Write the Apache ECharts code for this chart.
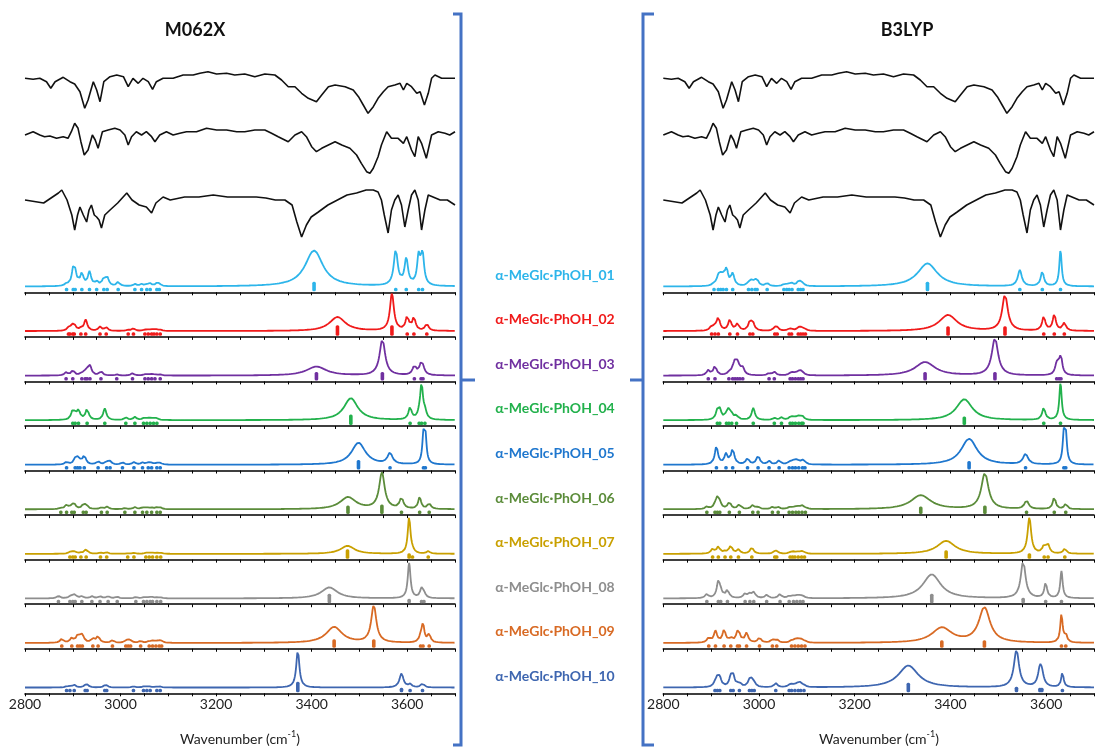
<!DOCTYPE html>
<html><head><meta charset="utf-8">
<script src="https://cdn.jsdelivr.net/npm/echarts@6/dist/echarts.min.js"></script>
<style>html,body{margin:0;padding:0;background:#fff}#c{width:1096px;height:747px}</style>
</head><body><div id="c"></div>
<script>
// ---------------- DATA ----------------
const methods = ['M062X', 'B3LYP'];
const conformers = ['α-MeGlc·PhOH_01','α-MeGlc·PhOH_02','α-MeGlc·PhOH_03','α-MeGlc·PhOH_04','α-MeGlc·PhOH_05',
  'α-MeGlc·PhOH_06','α-MeGlc·PhOH_07','α-MeGlc·PhOH_08','α-MeGlc·PhOH_09','α-MeGlc·PhOH_10'];
const tickLabels = [2800, 3000, 3200, 3400, 3600];
const axisTitle = 'Wavenumber (cm';

// experimental traces: [wavenumber, signal (a.u.)]
const expTrace1 = [[2800,1.7],[2817,0.7],[2831,1.7],[2845,-1.7],[2854,-8.3],[2863,-1.7],[2880,2.7],[2894,-1.7],[2904,-4],[2915,-11.7],[2925,-28.3],[2932,-20],[2943,-1.7],[2950,-10],[2957,-21.7],[2965,-1.7],[2978,3.3],[2992,5],[3006,3.3],[3016,-6.7],[3026,1.7],[3037,-3.3],[3047,1.7],[3058,-1.7],[3067,-9.3],[3075,-1.7],[3089,1.7],[3110,1.7],[3131,5],[3152,5],[3166,6.7],[3183,8.3],[3201,6],[3222,6.7],[3239,5],[3260,6],[3281,3.3],[3302,6],[3323,5],[3337,0],[3351,-6.7],[3365,-6.7],[3379,-13.3],[3393,-18.3],[3410,-21.7],[3421,-15],[3435,-6.7],[3449,-5],[3470,-6.7],[3487,-10],[3498,-16.7],[3508,-25],[3518,-33.3],[3529,-26.7],[3539,-18.3],[3550,-11.7],[3560,-6.7],[3574,-5],[3585,-3.3],[3592,-10],[3599,-3.3],[3609,-6.7],[3620,-13.3],[3627,-11.7],[3636,-25],[3644,-13.3],[3651,1.7],[3658,5],[3672,1.7],[3686,1.7],[3700,1.7]];
const expTrace2 = [[2800,-2],[2817,1.3],[2831,-2],[2841,-3.7],[2852,-3],[2866,-5.3],[2880,-3.7],[2890,-5.3],[2897,1.3],[2904,9.7],[2911,4.7],[2917,-8.7],[2924,-22],[2932,-17],[2941,-2],[2947,-7],[2953,-15.3],[2962,1.3],[2974,3],[2988,4.7],[2999,3],[3009,-2],[3016,-12],[3023,-3.7],[3033,1.3],[3044,-2],[3054,1.3],[3065,-3.7],[3072,-8.7],[3082,-2],[3096,1.3],[3110,-2],[3124,-0.3],[3138,1.3],[3159,1.3],[3180,4.7],[3201,3],[3222,3],[3243,1.3],[3260,1.3],[3281,3],[3302,3],[3316,-0.3],[3330,-3.7],[3351,-8.7],[3365,-2],[3379,1.3],[3389,-3.7],[3400,-13.7],[3410,-18.7],[3421,-15.3],[3435,-12],[3449,-8.7],[3463,-12],[3480,-15.3],[3494,-22],[3504,-30.3],[3515,-38.7],[3522,-40.3],[3529,-35.3],[3539,-23.7],[3546,-12],[3557,1.3],[3567,-5.3],[3581,-5.3],[3592,-10.3],[3599,-3.7],[3609,-17],[3616,-23.7],[3623,-3.7],[3630,-10.3],[3640,-25.3],[3651,-2],[3665,1.3],[3679,-0.3],[3689,-2],[3700,1.3]];
const expTrace3 = [[2800,-2],[2839,-5],[2870,5],[2877,8],[2888,-2],[2898,-17],[2904,-32],[2910,-17],[2915,-9],[2922,-17],[2929,-24],[2934,-12],[2939,-7],[2945,-17],[2950,-19],[2955,-22],[2960,-30],[2967,-17],[2978,-12],[2994,-5],[3013,5],[3024,-2],[3039,-7],[3054,-9],[3065,-15],[3074,-5],[3089,1],[3104,-2],[3134,1],[3164,1],[3194,3],[3224,1],[3254,1],[3284,1],[3304,0],[3324,-2],[3344,-2],[3359,-7],[3369,-24],[3379,-39],[3389,-27],[3399,-19],[3414,-14],[3434,-7],[3454,-2],[3474,3],[3494,5],[3514,8],[3529,8],[3539,6],[3546,-2],[3552,-17],[3560,-35],[3567,-12],[3574,-2],[3581,3],[3588,-7],[3595,-29],[3602,-12],[3609,3],[3616,8],[3623,-2],[3630,-32],[3637,-12],[3644,3],[3654,1],[3669,-2],[3684,-2],[3700,-7]];

// computed bands: [wavenumber, band height, FWHM, stick intensity]
const m062x01 = [[2887,2,8,4],[2901,15,8,4],[2905,10,8,4],[2919,12,8,4],[2935,14,8,4],[2950,4,8,4],[2965,7,8,4],[2972,8,8,4],[2995,4,8,4],[3030,2,8,4],[3044,2,8,4],[3055,1.5,8,4],[3062,2.5,8,4],[3076,2.5,8,4],[3081,2,8,4],[3405,36,45,10],[3576,35,10,4],[3598,26,9,4],[3624,28,8,4],[3632,30,8,4]];
const m062x02 = [[2891,2,8,4],[2894,2,8,4],[2900,3,8,4],[2903,5,8,4],[2917,2,8,4],[2927,11,8,4],[2957,4,8,4],[2970,3.5,8,4],[3016,1,8,4],[3027,2.5,8,4],[3051,1,8,4],[3058,1,8,4],[3065,1,8,4],[3070,1,8,4],[3076,1,8,4],[3083,1,8,4],[3454,14,40,11],[3568,37,10,11],[3600,14,8,4],[3614,13,8,4],[3641,7,8,4]];
const m062x03 = [[2886,3,8,4],[2900,5,8,4],[2919,2,8,4],[2926,2,8,4],[2930,4,8,4],[2936,9,8,4],[2959,4,8,4],[2992,1,8,4],[3025,2.2,8,4],[3051,1,8,4],[3058,1,8,4],[3065,1,8,4],[3072,1,8,4],[3083,1,8,4],[3410,9,50,9],[3548,36,14,9],[3615,9,9,4],[3629,10,9,4],[3633,5,9,4]];
const m062x04 = [[2900,9,8,4],[2905,3,8,4],[2912,9,8,4],[2930,11,8,4],[2967,11.5,8,4],[3011,2.5,8,4],[3030,3,8,4],[3048,1.5,8,4],[3055,1.5,8,4],[3062,1.5,8,4],[3069,1.5,8,4],[3076,1.5,8,4],[3482,22,35,11],[3606,12,8,4],[3625,4,8,4],[3630,34,7,4],[3637,7,8,4]];
const m062x05 = [[2887,2.5,8,4],[2905,5,8,4],[2910,5,8,4],[2915,2,8,4],[2924,9,8,4],[2953,3,8,4],[2971,3,8,4],[2978,3,8,4],[3004,2,8,4],[3028,2.5,8,4],[3046,2,8,4],[3058,2,8,4],[3065,1.5,8,4],[3076,1.5,8,4],[3083,1.5,8,4],[3498,22,35,10],[3564,11,12,4],[3634,26,6,4],[3638,26,6,4]];
const m062x06 = [[2875,1,8,4],[2887,4,8,4],[2898,3,8,4],[2903,4.5,8,4],[2922,4,8,4],[2928,4,8,4],[2960,1.5,8,4],[2972,2.5,8,4],[3009,1,8,4],[3030,2,8,4],[3046,1.5,8,4],[3055,1.5,8,4],[3065,1.5,8,4],[3076,1.5,8,4],[3083,1.5,8,4],[3476,12,40,9],[3547,36,14,10],[3588,11,9,4],[3626,12,7,4],[3646,5.5,8,4]];
const m062x07 = [[2894,1.5,8,4],[2900,1.5,8,4],[2905,1.5,8,4],[2917,1,8,4],[2928,4.5,8,4],[2958,1,8,4],[2971,1.5,8,4],[3015,0.5,8,4],[3028,1,8,4],[3053,0.8,8,4],[3060,0.8,8,4],[3067,0.8,8,4],[3076,0.8,8,4],[3084,0.8,8,4],[3475,8,35,10],[3604,36,7,6],[3611,2,8,4],[3644,2.5,8,4]];
const m062x08 = [[2870,2.5,8,4],[2894,1.5,8,4],[2900,2,8,4],[2905,3,8,4],[2919,2,8,4],[2940,2,8,4],[2957,2,8,4],[2974,2,8,4],[2993,1.5,8,4],[3032,1.2,8,4],[3048,0.8,8,4],[3055,0.8,8,4],[3062,0.8,8,4],[3067,0.8,8,4],[3076,0.8,8,4],[3084,0.8,8,4],[3437,11,40,10],[3604,35,7,5],[3630,9,8,4],[3635,4,8,4]];
const m062x09 = [[2877,4,8,4],[2898,4.5,8,4],[2910,6,8,4],[2915,3,8,4],[2920,7,8,4],[2942,4,8,4],[2953,6.5,8,4],[2983,2.5,8,4],[3011,1.5,8,4],[3016,2.5,8,4],[3021,1.5,8,4],[3042,1.8,8,4],[3060,1.5,8,4],[3067,1.5,8,4],[3074,1.5,8,4],[3081,1.5,8,4],[3086,1.5,8,4],[3447,16,40,9],[3530,37,13,9],[3628,5,7,4],[3633,18,7,4],[3646,8,7,4]];
const m062x10 = [[2887,1,8,4],[2894,1,8,4],[2903,2.5,8,4],[2926,1.5,8,4],[2930,2.5,8,4],[2967,1.5,8,4],[2971,1.5,8,4],[3027,1,8,4],[3048,0.8,8,4],[3055,0.8,8,4],[3062,0.8,8,4],[3076,0.8,8,4],[3083,0.8,8,4],[3371,37,8,11],[3588,14,10,5],[3606,3,8,4],[3632,4,8,4]];

const b3lyp01 = [[2906,2,8,4],[2915,8,8,4],[2920,7,8,4],[2925,6,8,4],[2932,16,8,4],[2945,12,8,4],[2978,3,8,4],[2985,5,8,4],[2992,3,8,4],[2996,5,8,4],[3017,3,8,4],[3052,1.5,8,4],[3058,1,8,4],[3063,1.5,8,4],[3069,2.5,8,4],[3082,3.5,8,4],[3087,3.5,8,4],[3092,1.5,8,4],[3352,23,50,10],[3545,16,10,4],[3592,14.5,8,4],[3630,36,6,4]];
const b3lyp02 = [[2901,4,8,4],[2908,3,8,4],[2915,13,8,4],[2939,11,8,4],[2955,7,8,4],[2981,8.5,8,4],[2987,7.5,8,4],[3033,3,8,4],[3038,3,8,4],[3063,1.5,8,4],[3068,1.5,8,4],[3082,2.5,8,4],[3087,2.5,8,4],[3092,1.5,8,4],[3097,1,8,4],[3395,16,45,10],[3514,36,14,10],[3595,14,8,4],[3617,16,8,4],[3638,8,8,4]];
const b3lyp03 = [[2894,5,8,4],[2908,9.5,8,4],[2937,2,8,4],[2945,4,8,4],[2950,11,8,4],[2955,9,8,4],[2960,3,8,4],[2966,6.5,8,4],[3021,2,8,4],[3032,3.5,8,4],[3065,1.5,8,4],[3070,2,8,4],[3076,1.5,8,4],[3082,2.5,8,4],[3087,3.5,8,4],[3092,1.5,8,4],[3347,13.5,50,9],[3493,37,16,9],[3622,10,8,4],[3627,6,8,4],[3631,16,7,4]];
const b3lyp04 = [[2913,8,8,4],[2918,9,8,4],[2932,4,8,4],[2937,9,8,4],[2943,4,8,4],[2953,4,8,4],[2988,12,8,4],[3032,2,8,4],[3047,2.5,8,4],[3065,2,8,4],[3070,2,8,4],[3076,2,8,4],[3083,3,8,4],[3089,2.5,8,4],[3092,1.5,8,4],[3429,21,40,9],[3595,12,8,4],[3630,37,6,4]];
const b3lyp05 = [[2911,18,8,4],[2931,10,8,4],[2945,15.5,8,4],[2976,6,8,4],[2998,9,8,4],[3021,3.3,8,4],[3042,4,8,4],[3063,2,8,4],[3070,2.5,8,4],[3076,4,8,4],[3083,2.5,8,4],[3091,3.5,8,4],[3096,1.5,8,4],[3439,26,40,9],[3557,10.5,12,4],[3637,27,6,4],[3641,27,6,4]];
const b3lyp06 = [[2891,2.3,8,4],[2908,3,8,4],[2913,10,8,4],[2918,5,8,4],[2938,7,8,4],[2959,4.5,8,4],[2987,4,8,4],[2998,2,8,4],[3028,2,8,4],[3040,2,8,4],[3063,1.5,8,4],[3070,1.5,8,4],[3077,1.5,8,4],[3083,2,8,4],[3090,3,8,4],[3097,1,8,4],[3338,14,50,8],[3472,36,18,9],[3559,8.5,10,4],[3617,12.5,7,4],[3641,5.5,7,4]];
const b3lyp07 = [[2903,4.5,8,4],[2915,7,8,4],[2929,2,8,4],[2941,8,8,4],[2957,4,8,4],[2985,6.5,8,4],[3033,2,8,4],[3037,2,8,4],[3065,1,8,4],[3070,1.5,8,4],[3075,1,8,4],[3082,1.5,8,4],[3089,2,8,4],[3095,1,8,4],[3391,13,45,9],[3565,36,9,6],[3596,8,8,4],[3604,8,8,4],[3639,5,8,4]];
const b3lyp08 = [[2891,4,8,4],[2915,16,8,4],[2920,5,8,4],[2934,8,8,4],[2971,4.5,8,4],[2981,4,8,4],[2989,5.5,8,4],[3016,3.3,8,4],[3044,4,8,4],[3063,2,8,4],[3072,2,8,4],[3079,2,8,4],[3086,2.5,8,4],[3092,1.5,8,4],[3361,24,45,10],[3552,37,12,6],[3599,15,7,4],[3632,27,6,4]];
const b3lyp09 = [[2895,5,8,4],[2909,11.5,8,4],[2927,12.5,8,4],[2941,4,8,4],[2955,9,8,4],[2959,5,8,4],[2974,9.5,8,4],[3001,5,8,4],[3028,3,8,4],[3037,3,8,4],[3068,2,8,4],[3075,2.5,8,4],[3082,3.5,8,4],[3089,2.5,8,4],[3096,1.5,8,4],[3382,15,50,8],[3471,35,28,8],[3632,28,6,4],[3641,8,6,4]];
const b3lyp10 = [[2908,3,8,4],[2913,8,8,4],[2918,8,8,4],[2941,9,8,4],[2946,10,8,4],[2959,4,8,4],[2980,6,8,4],[2985,6,8,4],[2990,3,8,4],[3035,4,8,4],[3063,1.5,8,4],[3068,2,8,4],[3075,2,8,4],[3082,3,8,4],[3087,3.5,8,4],[3094,1.5,8,4],[3312,22,50,10],[3538,37,13,6],[3587,16,10,5],[3591,10,10,5],[3634,15,6,4]];

const m062xSets = [m062x01,m062x02,m062x03,m062x04,m062x05,m062x06,m062x07,m062x08,m062x09,m062x10];
const b3lypSets = [b3lyp01,b3lyp02,b3lyp03,b3lyp04,b3lyp05,b3lyp06,b3lyp07,b3lyp08,b3lyp09,b3lyp10];
const expTraces = [expTrace1, expTrace2, expTrace3];

// ---------------- STYLE / LAYOUT ----------------
const colors = ['#2DB5EA','#F01A1A','#7030A0','#22B14C','#1F77CE','#5B8C3A','#C9A000','#8E8E8E','#D86A24','#3E66B0'];
const FONT = 'Lato, "Open Sans", sans-serif';
const BR = '#4472C4';
const expBase = [80, 133, 198];
const axisY0 = 292.3, axisStep = 44.56;
const panels = [
  {sets: m062xSets, left: 25, width: 430, titleX: 195, titleAxisX: 240},
  {sets: b3lypSets, left: 663.3, width: 430.7, titleX: 907, titleAxisX: 879}
];

// Lorentzian broadening of the computed bands
function broaden(bands) {
  const out = [];
  for (let x = 2800; x <= 3700; x += 0.5) {
    let s = 0;
    for (const b of bands) { const d = (x - b[0]) / (b[2] / 2); s += b[1] / (1 + d * d); }
    out.push([x, s]);
  }
  return out;
}

const grids = [], xAxes = [], yAxes = [], series = [];
panels.forEach((pn) => {
  const gi = grids.length;
  grids.push({left: pn.left, width: pn.width, top: 60, height: 190, outerBoundsMode: 'none'});
  xAxes.push({gridIndex: gi, type: 'value', min: 2800, max: 3700, show: false});
  yAxes.push({gridIndex: gi, type: 'value', min: -250, max: -60, show: false});
  expTraces.forEach((tr, k) => series.push({
    type: 'line', xAxisIndex: gi, yAxisIndex: gi, showSymbol: false, silent: true, animation: false,
    data: tr.map(p => [p[0], p[1] - expBase[k]]),
    lineStyle: {color: '#111', width: 1.6}
  }));
  pn.sets.forEach((bands, i) => {
    const g = grids.length;
    const ay = axisY0 + i * axisStep;
    const last = i === pn.sets.length - 1;
    grids.push({left: pn.left, width: pn.width, top: ay - 50, height: 50, outerBoundsMode: 'none'});
    xAxes.push({
      gridIndex: g, type: 'value', min: 2800, max: 3700, interval: 50,
      axisLine: {show: true, onZero: false, lineStyle: {color: '#000', width: 1.6}},
      axisTick: {show: true, length: 3, lineStyle: {color: '#000', width: 1}},
      splitLine: {show: false},
      axisLabel: {show: last, margin: 4, fontFamily: FONT, fontSize: 14, color: '#222',
        formatter: v => tickLabels.includes(v) ? String(v) : ''}
    });
    yAxes.push({gridIndex: g, type: 'value', min: -5.8, max: 44.2, show: false});
    series.push({
      type: 'line', xAxisIndex: g, yAxisIndex: g, showSymbol: false, silent: true, animation: false, clip: false,
      data: broaden(bands), lineStyle: {color: colors[i], width: 1.8}
    });
    series.push({
      type: 'custom', xAxisIndex: g, yAxisIndex: g, silent: true, animation: false, clip: false,
      data: bands.map(b => [b[0], b[3]]),
      renderItem: (params, api) => {
        const p0 = api.coord([api.value(0), -5.8]);
        const p1 = api.coord([api.value(0), -5.8 + api.value(1)]);
        return {type: 'rect', shape: {x: p0[0] - 1.8, y: p1[1] - 0.5, width: 3.6, height: p0[1] - p1[1] - 0.5, r: 1.5},
          style: {fill: colors[i]}};
      }
    });
  });
});

const graphic = [];
panels.forEach((pn, pi) => {
  graphic.push({type: 'text', x: pn.titleX, y: 30, style: {text: methods[pi], fontFamily: FONT, fontWeight: 'bold', fontSize: 18, fill: '#111', align: 'center', verticalAlign: 'middle'}});
  graphic.push({type: 'text', x: pn.titleAxisX, y: 739, style: {
    text: '{a|' + axisTitle + '}{s|-1}{a|)}', align: 'center', verticalAlign: 'middle',
    rich: {a: {fontFamily: FONT, fontSize: 14, fill: '#222'}, s: {fontFamily: FONT, fontSize: 9, fill: '#222', padding: [0, 0, 9, 0]}}
  }});
});
conformers.forEach((name, i) => {
  graphic.push({type: 'text', x: 555, y: axisY0 + i * axisStep - 17, style: {text: name, fontFamily: FONT, fontWeight: 'bold', fontSize: 14, fill: colors[i], align: 'center', verticalAlign: 'middle'}});
});
// brackets
graphic.push({type: 'polyline', shape: {points: [[453, 14], [461, 14], [461, 745], [453, 745]]}, style: {stroke: BR, lineWidth: 3, fill: null}});
graphic.push({type: 'line', shape: {x1: 461, y1: 380, x2: 475, y2: 380}, style: {stroke: BR, lineWidth: 3}});
graphic.push({type: 'polyline', shape: {points: [[654, 14], [643, 14], [643, 745], [654, 745]]}, style: {stroke: BR, lineWidth: 3, fill: null}});
graphic.push({type: 'line', shape: {x1: 630, y1: 380, x2: 643, y2: 380}, style: {stroke: BR, lineWidth: 3}});

const chart = echarts.init(document.getElementById('c'));
chart.setOption({
  animation: false,
  backgroundColor: '#fff',
  grid: grids, xAxis: xAxes, yAxis: yAxes, series: series, graphic: graphic
});
</script></body></html>
